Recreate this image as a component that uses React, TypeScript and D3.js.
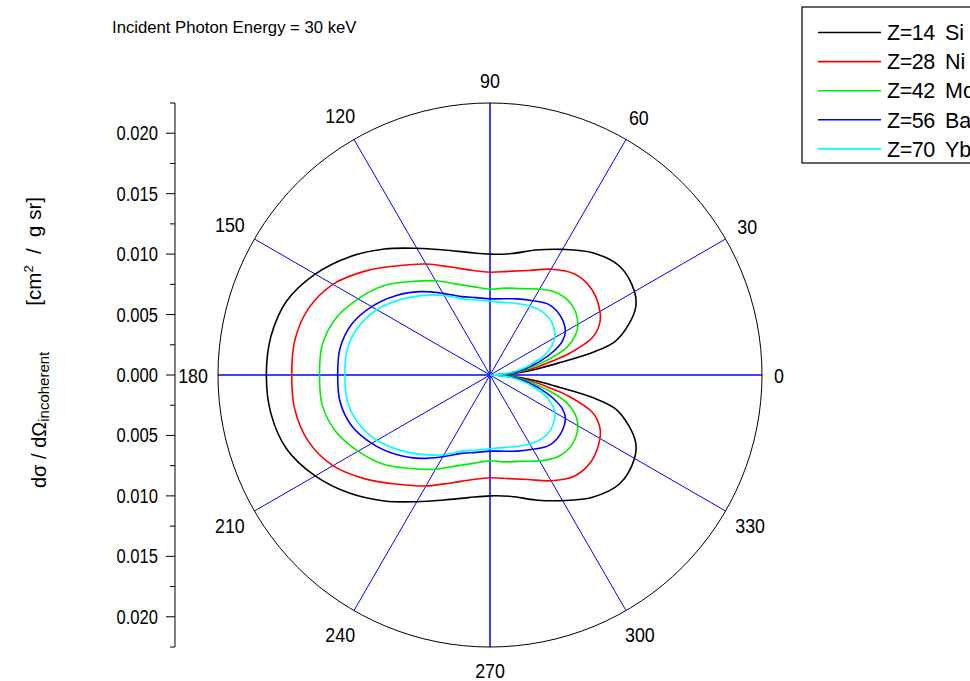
import React from 'react';
import * as d3 from 'd3';

// Scattering angles (degrees), upper half; lower half is mirrored
const angles = [0, 2.5, 5, 7.5, 10, 12.5, 15, 20, 25, 30, 40, 50, 60, 70, 80, 90, 100, 110, 120, 130, 140, 150, 160, 170, 180];
// dσ/dΩ incoherent [cm^2 / g sr]
const siValues = [0, 0.0012, 0.0025, 0.0040, 0.0058, 0.0088, 0.0107, 0.0122, 0.0133, 0.0138, 0.0140, 0.0132, 0.0120, 0.0110, 0.0102, 0.0100, 0.0103, 0.0110, 0.0121, 0.0136, 0.0152, 0.0167, 0.0179, 0.0184, 0.0185];
const niValues = [0, 0.0010, 0.0020, 0.0030, 0.0041, 0.0052, 0.0067, 0.0090, 0.0100, 0.0105, 0.0110, 0.0109, 0.0101, 0.0092, 0.0087, 0.0085, 0.0088, 0.0095, 0.0106, 0.0118, 0.0134, 0.0150, 0.0160, 0.0164, 0.0164];
const moValues = [0, 0.0010, 0.0019, 0.0027, 0.0034, 0.0041, 0.0051, 0.0068, 0.0078, 0.0084, 0.0089, 0.0088, 0.0082, 0.0076, 0.0073, 0.0071, 0.0074, 0.0080, 0.0090, 0.0101, 0.0115, 0.0126, 0.0136, 0.0141, 0.0141];
const baValues = [0, 0.0008, 0.0016, 0.0023, 0.0030, 0.0035, 0.0042, 0.0055, 0.0066, 0.0072, 0.0076, 0.0076, 0.0071, 0.0067, 0.0064, 0.0063, 0.0065, 0.0069, 0.0078, 0.0090, 0.0102, 0.0113, 0.0122, 0.0126, 0.0126];
const ybValues = [0, 0.0007, 0.0013, 0.0019, 0.0025, 0.0031, 0.0036, 0.0048, 0.0056, 0.0062, 0.0067, 0.0068, 0.0066, 0.0063, 0.0061, 0.0061, 0.0063, 0.0067, 0.0076, 0.0086, 0.0097, 0.0108, 0.0116, 0.0120, 0.0120];

const seriesZ = ['Z=14', 'Z=28', 'Z=42', 'Z=56', 'Z=70'];
const seriesSym = ['Si', 'Ni', 'Mo', 'Ba', 'Yb'];
const seriesValues = [siValues, niValues, moValues, baValues, ybValues];
const seriesColors = ['#000000', '#ff0000', '#00ee00', '#0000ff', '#00ffff'];

const yMajorTicks = [-0.02, -0.015, -0.01, -0.005, 0, 0.005, 0.01, 0.015, 0.02];
const yMinorTicks = [-0.0225, -0.0175, -0.0125, -0.0075, -0.0025, 0.0025, 0.0075, 0.0125, 0.0175, 0.0225];
const angleTicks = [0, 30, 60, 90, 120, 150, 180, 210, 240, 270, 300, 330];

const W = 970;
const H = 681;
const cx = 490;
const cy = 375;
const R = 272;
const rMax = 0.0225;
const FONT = "'Liberation Sans', Arial, Helvetica, sans-serif";

export default function App() {
  const rScale = d3.scaleLinear().domain([0, rMax]).range([0, R]);
  const yScale = d3.scaleLinear().domain([-rMax, rMax]).range([cy + R, cy - R]);
  const fmt = d3.format('.3f');

  const radial = d3
    .lineRadial<[number, number]>()
    .angle((d) => Math.PI / 2 - (d[0] * Math.PI) / 180)
    .radius((d) => rScale(d[1]))
    .curve(d3.curveCatmullRom.alpha(0.5));

  const fullCurve = (vals: number[]): [number, number][] => {
    const upper: [number, number][] = angles.map((a, i) => [a, vals[i]]);
    const lower: [number, number][] = angles
      .slice(0, -1)
      .map((a, i) => [360 - a, vals[i]] as [number, number])
      .reverse();
    return upper.concat(lower);
  };

  const axisX = 175;
  const angleFs = 21;
  const tickFs = 19.5;

  const labelPos = (a: number, label: string) => {
    const t = (a * Math.PI) / 180;
    const c = Math.cos(t);
    const s = Math.sin(t);
    const w = label.length * 8;
    const h = 20;
    const d = 285 + (w / 2) * Math.abs(c) + (h / 2) * Math.abs(s);
    return [cx + d * c, cy - d * s];
  };

  return (
    <div style={{ position: 'absolute', left: 0, top: 0, width: W, height: H, overflow: 'hidden', background: '#fff' }}>
      <svg width={W} height={H} style={{ display: 'block', fontFamily: FONT }}>
        <rect x={0} y={0} width={W} height={H} fill="#fff" />
        {/* title */}
        <text x={112} y={32.5} fontSize={16.7} fill="#000">
          Incident Photon Energy = 30 keV
        </text>

        {/* spokes */}
        <g stroke="#0000ff">
          {angleTicks.map((a) => {
            const t = (a * Math.PI) / 180;
            return (
              <line
                key={a}
                x1={cx}
                y1={cy}
                x2={cx + rScale(rMax) * Math.cos(t)}
                y2={cy - rScale(rMax) * Math.sin(t)}
                strokeWidth={a % 90 === 0 ? 1.5 : 1}
              />
            );
          })}
        </g>
        <circle cx={cx} cy={cy} r={rScale(rMax)} fill="none" stroke="#000" strokeWidth={1} />

        {/* angle labels */}
        {angleTicks.map((a) => {
          const lbl = String(a);
          const [x, y] = labelPos(a, lbl);
          return (
            <text
              key={'al' + a}
              transform={`translate(${x},${y + 0.36 * angleFs}) scale(0.85,1)`}
              textAnchor="middle"
              fontSize={angleFs}
              fill="#000"
            >
              {lbl}
            </text>
          );
        })}

        {/* curves */}
        <g transform={`translate(${cx},${cy})`} fill="none" strokeWidth={1.6} strokeLinejoin="round">
          {seriesValues.map((vals, i) => (
            <path key={i} d={radial(fullCurve(vals)) || ''} stroke={seriesColors[i]} />
          ))}
        </g>

        {/* y axis */}
        <g stroke="#000" strokeWidth={1}>
          <line x1={axisX} x2={axisX} y1={yScale(rMax)} y2={yScale(-rMax)} />
          {yMajorTicks.map((v) => (
            <line key={'M' + v} x1={axisX - 9} x2={axisX} y1={yScale(v)} y2={yScale(v)} />
          ))}
          {yMinorTicks.map((v) => (
            <line key={'m' + v} x1={axisX - 5} x2={axisX} y1={yScale(v)} y2={yScale(v)} />
          ))}
        </g>
        {yMajorTicks.map((v) => (
          <text
            key={'yl' + v}
            transform={`translate(158,${yScale(v) + 0.36 * tickFs}) scale(0.85,1)`}
            textAnchor="end"
            fontSize={tickFs}
            fill="#000"
          >
            {fmt(Math.abs(v))}
          </text>
        ))}

        {/* y axis title */}
        <text transform="translate(46,488) rotate(-90)" fontSize={20} fill="#000">
          dσ / dΩ
          <tspan fontSize={15} dy={3}>incoherent</tspan>
        </text>
        <text
          transform="translate(41,197) rotate(-90)"
          fontSize={20.5}
          fill="#000"
          textAnchor="end"
          style={{ whiteSpace: 'pre' }}
        >
          [cm
          <tspan fontSize={13} dy={-8}>2</tspan>
          <tspan dy={8}>{'  /  g sr]'}</tspan>
        </text>

        {/* legend */}
        <rect x={802} y={7} width={200} height={156} fill="#fff" stroke="#000" strokeWidth={1.2} />
        {seriesZ.map((z, i) => {
          const y = 32.5 + i * 29.1;
          return (
            <g key={'lg' + i}>
              <line x1={818} x2={881} y1={y} y2={y} stroke={seriesColors[i]} strokeWidth={1.6} />
              <text x={887} y={y + 0.36 * 21.5} fontSize={21.5} fill="#000" letterSpacing={-0.5}>
                {z}
              </text>
              <text x={945} y={y + 0.36 * 21.5} fontSize={21.5} fill="#000">
                {seriesSym[i]}
              </text>
            </g>
          );
        })}
      </svg>
    </div>
  );
}
